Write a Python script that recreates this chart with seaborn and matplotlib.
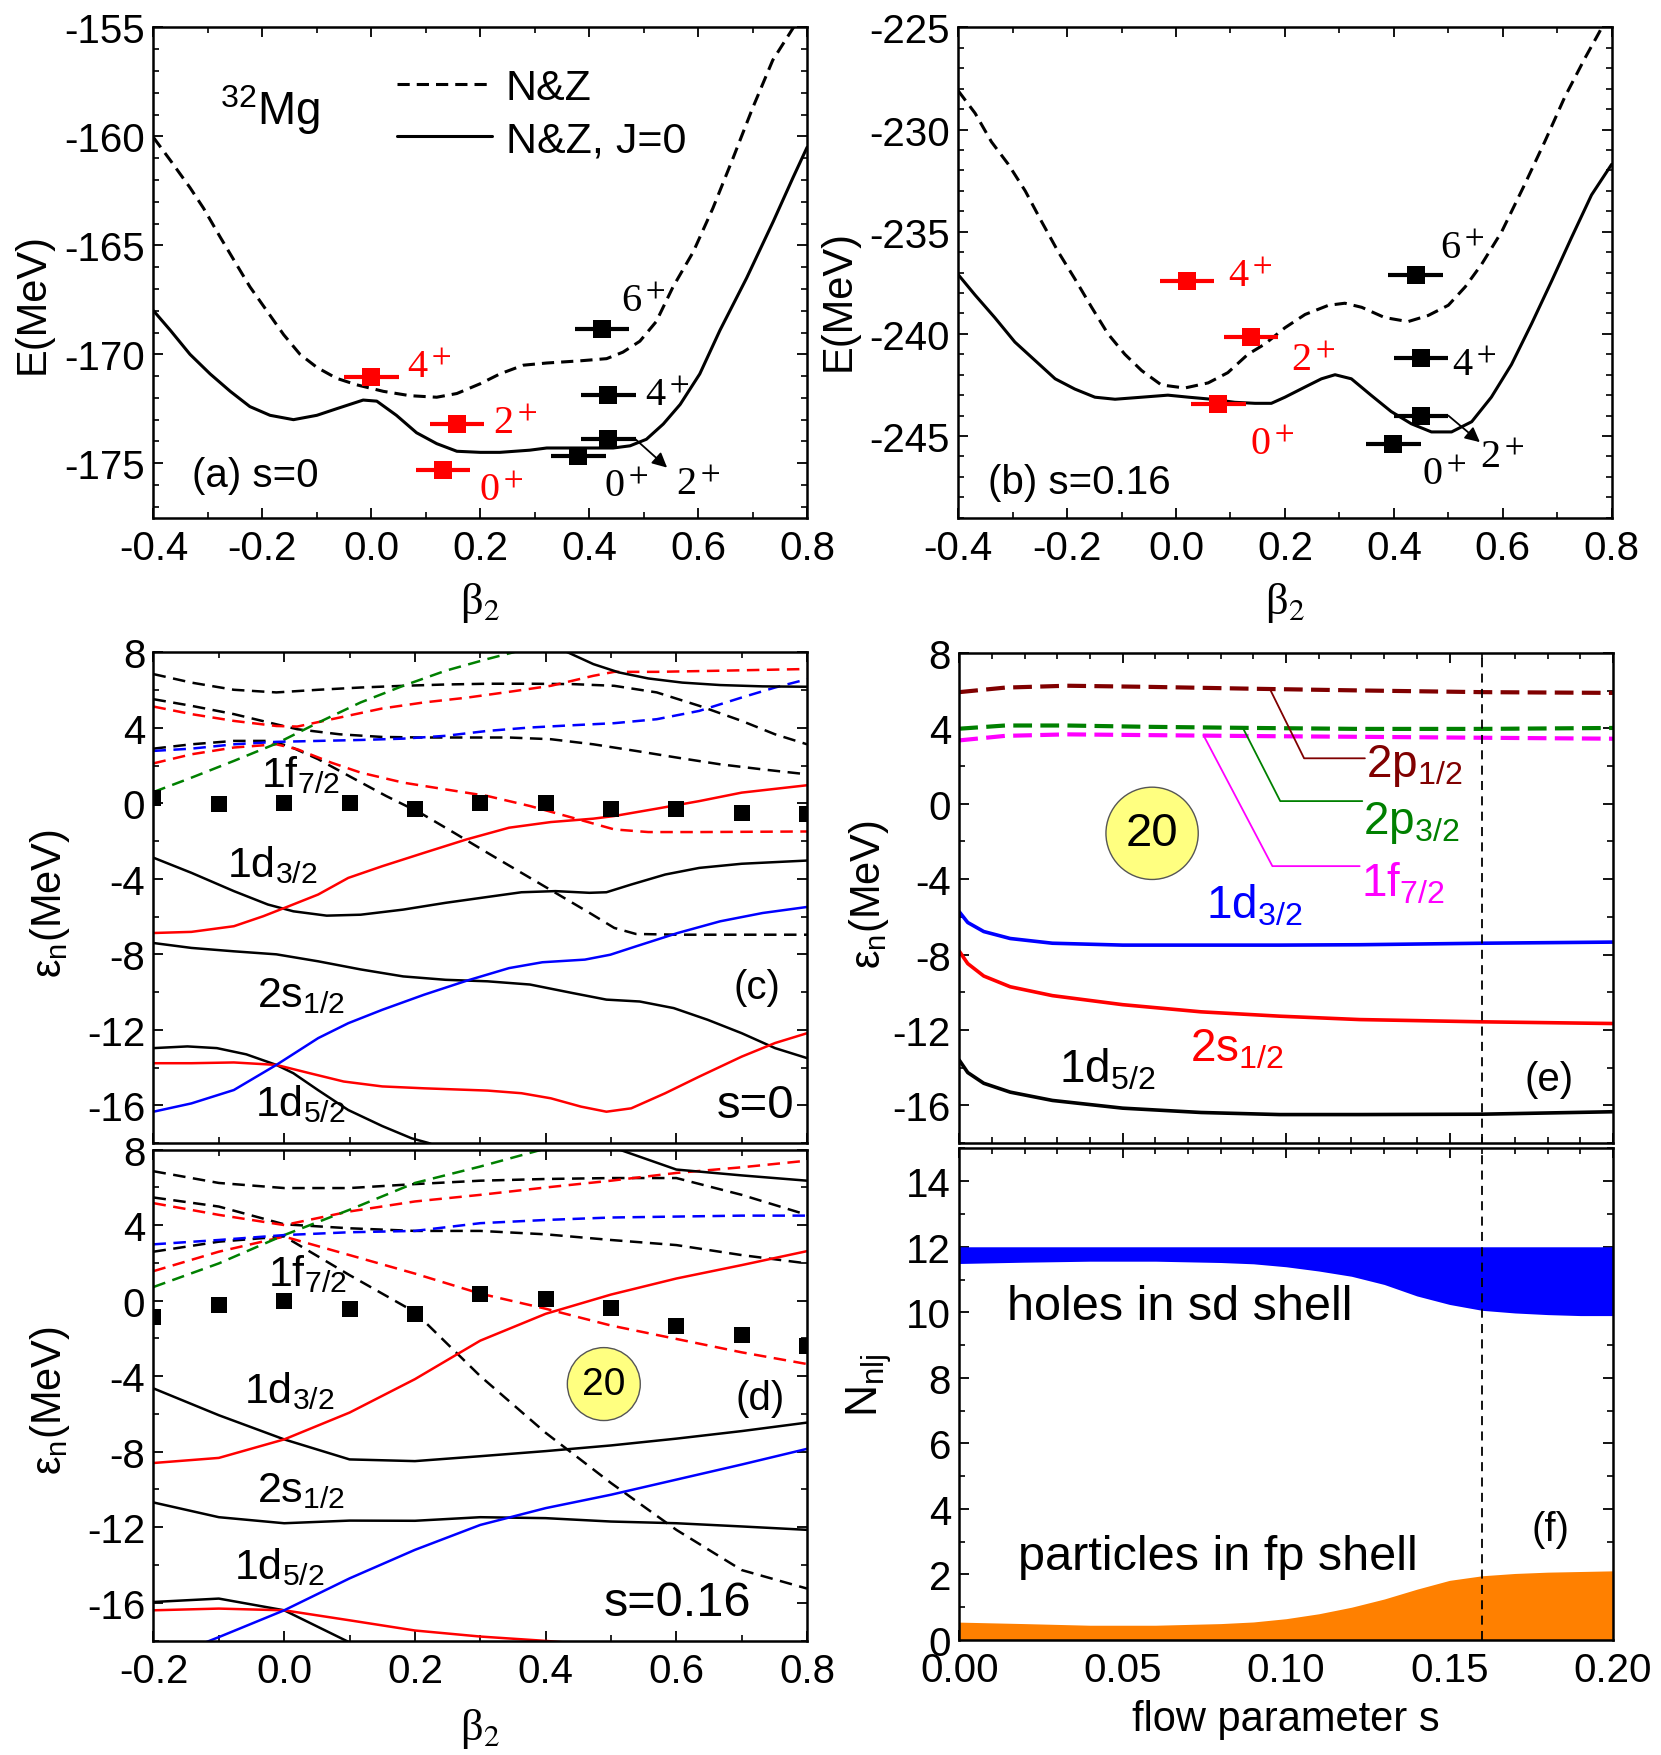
import matplotlib
matplotlib.use("Agg")
import matplotlib.pyplot as plt
import seaborn as sns
from matplotlib.ticker import MultipleLocator, FormatStrFormatter

# ---------- panel (a): energy curves, s=0 ----------
a_beta_nz = [-0.4, -0.369, -0.333, -0.308, -0.278, -0.247, -0.223, -0.192, -0.161, -0.131, -0.1, -0.064,
             -0.027, 0.022, 0.071, 0.12, 0.157, 0.2, 0.236, 0.279, 0.322, 0.383, 0.432, 0.462, 0.493, 0.523,
             0.554, 0.591, 0.627, 0.664, 0.7, 0.737, 0.775, 0.8]
a_E_nz = [-160.05, -161.1, -162.35, -163.3, -164.6, -165.9, -166.9, -168.0, -169.1, -170.0, -170.6, -171.1,
          -171.4, -171.7, -171.9, -171.97, -171.8, -171.35, -170.9, -170.5, -170.4, -170.3, -170.2, -169.9,
          -169.4, -168.5, -166.9, -165.3, -163.3, -161.0, -158.7, -156.5, -155.0, -154.0]
a_beta_j0 = [-0.4, -0.369, -0.333, -0.296, -0.259, -0.223, -0.186, -0.143, -0.1, -0.064, -0.015, 0.01, 0.046,
             0.083, 0.12, 0.157, 0.2, 0.236, 0.291, 0.322, 0.383, 0.444, 0.475, 0.505, 0.536, 0.567, 0.603,
             0.64, 0.689, 0.738, 0.774, 0.8]
a_E_j0 = [-168.0, -168.9, -170.0, -170.9, -171.7, -172.4, -172.8, -173.0, -172.8, -172.5, -172.1, -172.15,
          -172.8, -173.6, -174.1, -174.45, -174.5, -174.5, -174.4, -174.3, -174.3, -174.3, -174.2, -173.9,
          -173.2, -172.3, -170.9, -168.9, -166.5, -163.9, -161.9, -160.5]

# levels: red (left minimum) and black (right minimum)
a_red_beta = [0.0, 0.157, 0.132]
a_red_E = [-171.03, -173.19, -175.3]
a_red_J = ["4", "2", "0"]
a_red_tx = [0.065, 0.224, 0.198]
a_red_ty = [-171.06, -173.63, -176.69]
a_blk_beta = [0.423, 0.435, 0.435, 0.38]
a_blk_E = [-168.86, -171.88, -173.9, -174.68]
a_blk_J = ["6", "4", "2", "0"]
a_blk_tx = [0.459, 0.502, 0.56, 0.428]
a_blk_ty = [-168.0, -172.33, -176.39, -176.51]
a_arrow_tip = (0.543, -175.2)

# ---------- panel (b): energy curves, s=0.16 ----------
b_beta_nz = [-0.4, -0.369, -0.339, -0.308, -0.277, -0.247, -0.216, -0.186, -0.155, -0.125, -0.094, -0.063,
             -0.027, 0.016, 0.059, 0.095, 0.132, 0.163, 0.2, 0.237, 0.28, 0.31, 0.341, 0.383, 0.426, 0.463,
             0.5, 0.531, 0.561, 0.598, 0.64, 0.677, 0.714, 0.751, 0.778, 0.8]
b_E_nz = [-228.1, -229.2, -230.6, -231.7, -233.0, -234.5, -236.0, -237.3, -238.7, -240.0, -241.0, -241.8,
          -242.5, -242.65, -242.4, -241.9, -241.0, -240.5, -239.7, -239.05, -238.6, -238.5, -238.7, -239.2,
          -239.4, -239.1, -238.6, -237.7, -236.6, -235.0, -232.7, -230.6, -228.4, -226.5, -225.2, -224.0]
b_beta_j0 = [-0.4, -0.369, -0.333, -0.296, -0.259, -0.222, -0.186, -0.149, -0.112, -0.063, -0.015, 0.023,
             0.065, 0.108, 0.145, 0.175, 0.2, 0.237, 0.267, 0.292, 0.322, 0.358, 0.395, 0.432, 0.469, 0.506,
             0.543, 0.579, 0.616, 0.653, 0.69, 0.726, 0.763, 0.8]
b_E_j0 = [-237.1, -238.1, -239.2, -240.4, -241.3, -242.2, -242.7, -243.1, -243.2, -243.1, -243.0, -243.1,
          -243.2, -243.35, -243.4, -243.4, -243.1, -242.6, -242.2, -242.0, -242.2, -243.0, -243.8, -244.4,
          -244.8, -244.8, -244.3, -243.1, -241.5, -239.5, -237.4, -235.3, -233.2, -231.7]
b_red_beta = [0.0205, 0.1377, 0.0777]
b_red_E = [-237.4, -240.15, -243.43]
b_red_J = ["4", "2", "0"]
b_red_tx = [0.096, 0.212, 0.136]
b_red_ty = [-237.68, -241.76, -245.86]
b_blk_beta = [0.44, 0.45, 0.45, 0.399]
b_blk_E = [-237.1, -241.2, -244.0, -245.4]
b_blk_J = ["6", "4", "2", "0"]
b_blk_tx = [0.485, 0.506, 0.558, 0.451]
b_blk_ty = [-236.31, -242.03, -246.51, -247.36]
b_arrow_tip = (0.558, -245.3)
beta_err = 0.05

# ---------- panel (c): single-particle levels, s=0 ----------
c_blk1_x = [-0.2, -0.148, -0.103, -0.058, -0.012, 0.014, 0.052, 0.098, 0.15, 0.195, 0.221, 0.25]
c_blk1_y = [-12.97, -12.88, -12.97, -13.3, -13.86, -14.3, -15.2, -16.25, -17.1, -17.75, -18.0, -18.4]
c_blk2_x = [-0.2, -0.142, -0.077, -0.012, 0.052, 0.117, 0.182, 0.247, 0.311, 0.376, 0.441, 0.493, 0.544,
            0.596, 0.648, 0.7, 0.751, 0.8]
c_blk2_y = [-7.4, -7.66, -7.84, -8.0, -8.37, -8.8, -9.17, -9.35, -9.43, -9.6, -10.05, -10.4, -10.5, -10.85,
            -11.47, -12.18, -12.97, -13.5]
c_blk3_x = [-0.2, -0.142, -0.077, -0.025, 0.014, 0.065, 0.117, 0.182, 0.247, 0.311, 0.363, 0.415, 0.467,
            0.493, 0.531, 0.583, 0.635, 0.7, 0.8]
c_blk3_y = [-2.88, -3.68, -4.65, -5.36, -5.72, -5.95, -5.9, -5.63, -5.27, -4.96, -4.71, -4.65, -4.74, -4.71,
            -4.3, -3.77, -3.42, -3.2, -3.03]
c_blk4_x = [0.4, 0.434, 0.473, 0.512, 0.557, 0.609, 0.667, 0.732, 0.8]
c_blk4_y = [8.55, 8.0, 7.38, 6.94, 6.62, 6.4, 6.27, 6.2, 6.18]
c_red1_x = [-0.2, -0.142, -0.077, -0.012, 0.039, 0.091, 0.15, 0.214, 0.311, 0.363, 0.408, 0.454, 0.493,
            0.531, 0.583, 0.635, 0.7, 0.751, 0.8]
c_red1_y = [-13.77, -13.77, -13.73, -13.86, -14.3, -14.74, -15.0, -15.1, -15.22, -15.36, -15.63, -16.07,
            -16.34, -16.16, -15.36, -14.48, -13.42, -12.7, -12.18]
c_red2_x = [-0.2, -0.142, -0.077, -0.032, 0.007, 0.052, 0.098, 0.15, 0.214, 0.279, 0.344, 0.408, 0.473,
            0.505, 0.57, 0.635, 0.7, 0.8]
c_red2_y = [-6.87, -6.81, -6.51, -5.98, -5.45, -4.83, -3.95, -3.33, -2.62, -1.91, -1.29, -0.99, -0.81, -0.67,
            -0.28, 0.12, 0.57, 0.96]
c_blue_x = [-0.2, -0.142, -0.077, -0.012, 0.052, 0.098, 0.15, 0.214, 0.279, 0.344, 0.395, 0.46, 0.499, 0.538,
            0.602, 0.667, 0.732, 0.8]
c_blue_y = [-16.34, -15.9, -15.19, -13.86, -12.44, -11.65, -10.94, -10.14, -9.4, -8.73, -8.42, -8.28, -8.02,
            -7.58, -6.87, -6.25, -5.81, -5.49]
cd_blk1_x = [-0.2, -0.142, -0.077, -0.012, 0.052, 0.117, 0.182, 0.247, 0.311, 0.376, 0.441, 0.505, 0.57,
             0.635, 0.7, 0.751, 0.8]
cd_blk1_y = [6.85, 6.4, 6.02, 5.88, 6.02, 6.14, 6.23, 6.3, 6.34, 6.34, 6.32, 6.23, 5.88, 5.17, 4.37, 3.66, 3.13]
cd_blk2_x = [-0.2, -0.142, -0.077, -0.012, 0.02, 0.085, 0.15, 0.214, 0.279, 0.344, 0.408, 0.473, 0.538,
             0.602, 0.667, 0.732, 0.8]
cd_blk2_y = [5.52, 5.17, 4.73, 4.19, 3.93, 3.66, 3.52, 3.49, 3.49, 3.49, 3.4, 3.13, 2.78, 2.42, 2.07, 1.8, 1.54]
cd_blk3_x = [-0.2, -0.142, -0.077, -0.025, 0.007, 0.052, 0.104, 0.156, 0.208, 0.26, 0.311, 0.363, 0.415,
             0.467, 0.505, 0.538, 0.602, 0.8]
cd_blk3_y = [2.9, 3.13, 3.31, 3.31, 3.04, 2.34, 1.36, 0.39, -0.5, -1.56, -2.62, -3.68, -4.74, -5.8, -6.6,
             -6.92, -6.96, -6.96]
cd_red1_x = [-0.2, -0.142, -0.077, -0.012, 0.02, 0.085, 0.15, 0.214, 0.279, 0.344, 0.408, 0.473, 0.505, 0.57,
             0.667, 0.8]
cd_red1_y = [5.13, 4.73, 4.37, 4.1, 4.07, 4.55, 5.03, 5.35, 5.6, 5.91, 6.23, 6.76, 6.97, 6.97, 7.03, 7.12]
cd_red2_x = [-0.2, -0.142, -0.077, -0.012, 0.02, 0.072, 0.117, 0.182, 0.247, 0.311, 0.376, 0.441, 0.505,
             0.557, 0.635, 0.8]
cd_red2_y = [2.12, 2.6, 2.96, 3.13, 2.87, 2.16, 1.63, 1.1, 0.74, 0.39, -0.14, -0.76, -1.38, -1.52, -1.52, -1.49]
cd_green_x = [-0.2, -0.142, -0.077, -0.012, 0.052, 0.117, 0.182, 0.247, 0.311, 0.35, 0.4]
cd_green_y = [0.6, 1.36, 2.25, 3.17, 4.28, 5.35, 6.23, 7.03, 7.65, 8.0, 8.5]
cd_blue_x = [-0.2, -0.142, -0.077, -0.012, 0.052, 0.117, 0.182, 0.247, 0.311, 0.376, 0.441, 0.505, 0.57,
             0.635, 0.7, 0.751, 0.8]
cd_blue_y = [2.78, 2.9, 3.13, 3.26, 3.31, 3.36, 3.43, 3.58, 3.84, 4.02, 4.14, 4.25, 4.46, 4.9, 5.61, 6.14, 6.58]
grid_beta = [-0.2, -0.1, 0.0, 0.1, 0.2, 0.3, 0.4, 0.5, 0.6, 0.7, 0.8]
c_fermi = [0.3, -0.02, 0.04, 0.04, -0.32, 0.0, 0.0, -0.28, -0.28, -0.5, -0.58]

# ---------- panel (d): single-particle levels, s=0.16 (on grid_beta) ----------
d_blk_1d5 = [-15.96, -15.78, -16.4, -18.1, -19.6]
d_blk_2s = [-10.69, -11.47, -11.79, -11.65, -11.66, -11.47, -11.52, -11.7, -11.79, -11.96, -12.14]
d_blk_1d3 = [-4.65, -6.07, -7.35, -8.41, -8.5, -8.24, -7.97, -7.67, -7.31, -6.91, -6.46]
d_blk_top = [9.5, 8.15, 6.94, 6.63, 6.35]          # beta = 0.4 ... 0.8
d_red_low = [-16.4, -16.31, -16.4, -16.93, -17.47, -17.79, -18.02, -18.3]
d_red_up = [-8.6, -8.33, -7.35, -5.93, -4.16, -2.12, -0.7, 0.32, 1.17, 1.88, 2.62]
d_blue = [-19.2, -17.82, -16.4, -14.71, -13.2, -11.88, -10.99, -10.28, -9.48, -8.68, -7.85]
dd_blk1 = [6.85, 6.23, 5.96, 5.96, 6.17, 6.35, 6.44, 6.49, 6.49, 5.6, 4.54]
dd_blk2 = [5.46, 4.98, 4.04, 3.83, 3.69, 3.69, 3.51, 3.21, 2.94, 2.41, 1.97]
dd_blk3 = [2.59, 3.12, 3.4, 1.35, -0.61, -4.0, -7.0, -9.66, -12.14, -14.27, -15.25]
dd_red1 = [5.16, 4.54, 4.0, 4.72, 5.25, 5.6, 5.99, 6.35, 6.76, 7.06, 7.41]
dd_red2 = [1.56, 2.59, 3.39, 2.41, 1.43, 0.37, -0.43, -1.32, -2.03, -2.74, -3.36]
dd_green = [0.72, 1.97, 3.47, 4.81, 6.23, 7.1, 8.05, 9.0]
dd_blue = [2.98, 3.21, 3.47, 3.62, 3.69, 4.1, 4.27, 4.4, 4.45, 4.5, 4.5]
d_fermi = [-0.87, -0.25, -0.04, -0.43, -0.7, 0.37, 0.07, -0.38, -1.32, -1.81, -2.38]

# ---------- panel (e): levels vs flow parameter ----------
e_s = [0, 0.0026, 0.0075, 0.0156, 0.0285, 0.05, 0.074, 0.098, 0.1225, 0.16, 0.2]
e_1d3 = [-5.73, -6.3, -6.78, -7.15, -7.4, -7.5, -7.5, -7.5, -7.48, -7.4, -7.34]
e_2s = [-7.82, -8.48, -9.14, -9.71, -10.18, -10.66, -11.04, -11.27, -11.45, -11.57, -11.66]
e_1d5 = [-13.6, -14.26, -14.83, -15.3, -15.74, -16.15, -16.38, -16.49, -16.49, -16.47, -16.34]
e_s_fp = [0, 0.014, 0.033, 0.058, 0.09, 0.1225, 0.16, 0.2]
e_2p1 = [5.92, 6.16, 6.26, 6.2, 6.1, 6.01, 5.92, 5.88]
e_2p3 = [3.98, 4.15, 4.15, 4.08, 4.02, 3.97, 3.97, 4.02]
e_1f7 = [3.36, 3.6, 3.68, 3.64, 3.59, 3.55, 3.5, 3.45]
s_chosen = 0.16

# ---------- panel (f): occupation numbers ----------
f_s = [0, 0.02, 0.04, 0.06, 0.08, 0.09, 0.10, 0.11, 0.12, 0.13, 0.14, 0.15, 0.16, 0.17, 0.18, 0.19, 0.20]
f_sd_occ = [11.49, 11.53, 11.56, 11.56, 11.52, 11.48, 11.39, 11.26, 11.1, 10.85, 10.5, 10.24, 10.06, 9.98,
            9.93, 9.9, 9.9]
f_fp_occ = [0.545, 0.5, 0.45, 0.45, 0.5, 0.55, 0.65, 0.8, 1.0, 1.25, 1.55, 1.82, 1.96, 2.03, 2.07, 2.09, 2.11]
sd_capacity = 12

sns.set_theme(style="ticks")
plt.rcParams['font.family'] = ['Liberation Sans', 'DejaVu Sans']
plt.rcParams.update({
    'mathtext.fontset': 'custom', 'mathtext.rm': 'Liberation Sans',
    'mathtext.it': 'Liberation Sans:italic', 'mathtext.bf': 'Liberation Sans:bold',
    'axes.unicode_minus': False, 'axes.linewidth': 1.8, 'axes.edgecolor': 'black',
    'xtick.direction': 'in', 'ytick.direction': 'in', 'xtick.top': True, 'ytick.right': True,
    'xtick.major.size': 7.5, 'ytick.major.size': 7.5, 'xtick.minor.size': 4.5, 'ytick.minor.size': 4.5,
    'xtick.major.width': 1.3, 'ytick.major.width': 1.3, 'xtick.minor.width': 1.2, 'ytick.minor.width': 1.2,
    'xtick.color': 'black', 'ytick.color': 'black', 'xtick.labelsize': 29, 'ytick.labelsize': 29,
    'xtick.major.pad': 8, 'ytick.major.pad': 6, 'text.color': 'black', 'axes.labelcolor': 'black',
})

SERIF = dict(family='Liberation Serif', math_fontfamily='stix')
NARROW = ['Liberation Sans Narrow', 'Liberation Sans', 'DejaVu Sans']


def setup(ax, xlim, ylim, xmaj, xmin, ymaj, ymin, xfmt, xlabels=True):
    ax.set_xlim(*xlim)
    ax.set_ylim(*ylim)
    ax.xaxis.set_major_locator(MultipleLocator(xmaj))
    ax.xaxis.set_minor_locator(MultipleLocator(xmin))
    ax.yaxis.set_major_locator(MultipleLocator(ymaj))
    ax.yaxis.set_minor_locator(MultipleLocator(ymin))
    ax.xaxis.set_major_formatter(FormatStrFormatter(xfmt))
    ax.yaxis.set_major_formatter(FormatStrFormatter('%d'))
    ax.tick_params(which='both', top=True, right=True, labelbottom=xlabels)
    for t in ax.get_xticklabels() + ax.get_yticklabels():
        t.set_family(NARROW)
    ax.set_xlabel('')
    ax.set_ylabel('')


def line(ax, x, y, color, dash=None, lw=1.8, label=None):
    ls = '-' if dash is None else (0, dash)
    sns.lineplot(x=x, y=y, ax=ax, color=color, linestyle=ls, linewidth=lw, label=label,
                 estimator=None, legend=label is not None)


def levels(ax, bx, be, color):
    ax.errorbar(bx, be, xerr=beta_err, fmt='s', color=color, ms=13, mew=0, elinewidth=3,
                capsize=0, zorder=5)


def spin_labels(ax, js, tx, ty, color):
    for j, x, y in zip(js, tx, ty):
        ax.text(x, y, j + '$^+$', color=color, fontsize=29, va='baseline', **SERIF)


fig = plt.figure(figsize=(16.61, 17.56), dpi=100)

# ---- (a)
ax = fig.add_axes([0.0924, 0.7046, 0.3935, 0.2792])
line(ax, a_beta_nz, a_E_nz, 'black', dash=(4, 2.3), lw=2.2, label='N&Z')
line(ax, a_beta_j0, a_E_j0, 'black', lw=2.2, label='N&Z, J=0')
levels(ax, a_red_beta, a_red_E, 'red')
levels(ax, a_blk_beta, a_blk_E, 'black')
spin_labels(ax, a_red_J, a_red_tx, a_red_ty, 'red')
spin_labels(ax, a_blk_J, a_blk_tx, a_blk_ty, 'black')
ax.annotate('', xy=a_arrow_tip, xytext=(a_blk_beta[2] + beta_err, a_blk_E[2]),
            arrowprops=dict(arrowstyle='-|>', color='black', lw=1.3, mutation_scale=22, shrinkA=0, shrinkB=0))
ax.text(-0.278, -159.44, '$^{32}$Mg', fontsize=33, va='baseline')
ax.text(-0.33, -176.06, '(a) s=0', fontsize=29, va='baseline')
ax.legend(loc='upper left', bbox_to_anchor=(0.3725, 0.918), frameon=False, fontsize=31,
          handlelength=2.2, handletextpad=0.33, labelspacing=0.3, borderaxespad=0, borderpad=0)
setup(ax, (-0.4, 0.8), (-177.5, -155), 0.2, 0.1, 5, 1, '%.1f')
ax.set_ylabel('E(MeV)', fontsize=30)
ax.yaxis.set_label_coords(-0.154, 0.44)
ax.set_xlabel('β$_2$', fontsize=32, **SERIF)
ax.xaxis.set_label_coords(0.5, -0.128)

# ---- (b)
ax = fig.add_axes([0.5769, 0.7046, 0.3934, 0.2792])
line(ax, b_beta_nz, b_E_nz, 'black', dash=(4, 2.3), lw=2.2)
line(ax, b_beta_j0, b_E_j0, 'black', lw=2.2)
levels(ax, b_red_beta, b_red_E, 'red')
levels(ax, b_blk_beta, b_blk_E, 'black')
spin_labels(ax, b_red_J, b_red_tx, b_red_ty, 'red')
spin_labels(ax, b_blk_J, b_blk_tx, b_blk_ty, 'black')
ax.annotate('', xy=b_arrow_tip, xytext=(b_blk_beta[2] + beta_err, b_blk_E[2]),
            arrowprops=dict(arrowstyle='-|>', color='black', lw=1.3, mutation_scale=22, shrinkA=0, shrinkB=0))
ax.text(-0.345, -247.79, '(b) s=0.16', fontsize=29, va='baseline')
setup(ax, (-0.4, 0.8), (-249, -225), 0.2, 0.1, 5, 1, '%.1f')
ax.set_ylabel('E(MeV)', fontsize=30)
ax.yaxis.set_label_coords(-0.152, 0.445)
ax.set_xlabel('β$_2$', fontsize=32, **SERIF)
ax.xaxis.set_label_coords(0.5, -0.128)

# ---- (c)
ax = fig.add_axes([0.0924, 0.3485, 0.3935, 0.2794])
dc = (5, 3)
for x, y, col, d in [(cd_blk1_x, cd_blk1_y, 'black', dc), (cd_blk2_x, cd_blk2_y, 'black', dc),
                     (cd_blk3_x, cd_blk3_y, 'black', dc), (cd_red1_x, cd_red1_y, 'red', dc),
                     (cd_red2_x, cd_red2_y, 'red', dc), (cd_green_x, cd_green_y, 'green', dc),
                     (cd_blue_x, cd_blue_y, 'blue', dc),
                     (c_blk1_x, c_blk1_y, 'black', None), (c_blk2_x, c_blk2_y, 'black', None),
                     (c_blk3_x, c_blk3_y, 'black', None), (c_blk4_x, c_blk4_y, 'black', None),
                     (c_red1_x, c_red1_y, 'red', None), (c_red2_x, c_red2_y, 'red', None),
                     (c_blue_x, c_blue_y, 'blue', None)]:
    line(ax, x, y, col, dash=d)
sns.scatterplot(x=grid_beta, y=c_fermi, ax=ax, marker='s', s=130, color='black', linewidth=0, zorder=5)
ax.text(-0.035, 0.92, '1f$_{7/2}$', fontsize=31, va='baseline')
ax.text(-0.087, -3.86, '1d$_{3/2}$', fontsize=31, va='baseline')
ax.text(-0.041, -10.76, '2s$_{1/2}$', fontsize=31, va='baseline')
ax.text(-0.045, -16.5, '1d$_{5/2}$', fontsize=31, va='baseline')
ax.text(0.687, -10.32, '(c)', fontsize=29, va='baseline')
ax.text(0.781, -16.6, 's=0', fontsize=34, va='baseline', ha='right')
setup(ax, (-0.2, 0.8), (-18, 8), 0.2, 0.1, 4, 2, '%.1f', xlabels=False)
ax.set_ylabel('ε$_\\mathrm{n}$(MeV)', fontsize=30)
ax.yaxis.set_label_coords(-0.125, 0.49)

# ---- (d)
ax = fig.add_axes([0.0924, 0.0652, 0.3935, 0.2796])
for y, col in [(dd_blk1, 'black'), (dd_blk2, 'black'), (dd_blk3, 'black'), (dd_red1, 'red'),
               (dd_red2, 'red'), (dd_green, 'green'), (dd_blue, 'blue')]:
    line(ax, grid_beta[:len(y)], y, col, dash=dc)
for y, col in [(d_blk_1d5, 'black'), (d_blk_2s, 'black'), (d_blk_1d3, 'black'), (d_red_low, 'red'),
               (d_red_up, 'red'), (d_blue, 'blue')]:
    line(ax, grid_beta[:len(y)], y, col)
line(ax, grid_beta[-len(d_blk_top):], d_blk_top, 'black')
sns.scatterplot(x=grid_beta, y=d_fermi, ax=ax, marker='s', s=130, color='black', linewidth=0, zorder=5)
ax.text(-0.025, 0.81, '1f$_{7/2}$', fontsize=31, va='baseline')
ax.text(-0.061, -5.36, '1d$_{3/2}$', fontsize=31, va='baseline')
ax.text(-0.041, -10.63, '2s$_{1/2}$', fontsize=31, va='baseline')
ax.text(-0.077, -14.71, '1d$_{5/2}$', fontsize=31, va='baseline')
ax.text(0.69, -5.75, '(d)', fontsize=29, va='baseline')
ax.text(0.489, -16.67, 's=0.16', fontsize=35, va='baseline')
ax.text(0.489, -4.42, '20', fontsize=28, ha='center', va='center', zorder=6,
        bbox=dict(boxstyle='circle,pad=0.38', fc='#ffff80', ec='#555555', lw=1))
setup(ax, (-0.2, 0.8), (-18, 8), 0.2, 0.1, 4, 2, '%.1f')
ax.set_ylabel('ε$_\\mathrm{n}$(MeV)', fontsize=30)
ax.yaxis.set_label_coords(-0.125, 0.49)
ax.set_xlabel('β$_2$', fontsize=32, **SERIF)
ax.xaxis.set_label_coords(0.5, -0.134)

# ---- (e)
ax = fig.add_axes([0.5775, 0.3485, 0.3936, 0.2791])
de = (4.5, 2)
line(ax, e_s_fp, e_2p1, '#800000', dash=de, lw=3)
line(ax, e_s_fp, e_2p3, 'green', dash=de, lw=3)
line(ax, e_s_fp, e_1f7, 'magenta', dash=de, lw=3)
line(ax, e_s, e_1d3, 'blue', lw=2.6)
line(ax, e_s, e_2s, 'red', lw=2.6)
line(ax, e_s, e_1d5, 'black', lw=2.6)
ax.axvline(s_chosen, color='black', linestyle=(0, (5, 3.5)), lw=1.3)
for (px, py), (cx, cy), ex, col, txt, tyy in [
        ((0.095, 6.1), (0.1055, 2.41), 0.1241, '#800000', '2p$_{1/2}$', 1.46),
        ((0.0869, 3.98), (0.0982, 0.14), 0.1233, 'green', '2p$_{3/2}$', -1.57),
        ((0.0747, 3.64), (0.0958, -3.31), 0.1225, 'magenta', '1f$_{7/2}$', -4.88)]:
    ax.plot([px, cx, ex], [py, cy, cy], color=col, lw=1.3)
    ax.text(ex + 0.0003, tyy, txt, color=col, fontsize=33, va='baseline')
ax.text(0.0755, -6.02, '1d$_{3/2}$', color='blue', fontsize=33, va='baseline')
ax.text(0.0707, -13.6, '2s$_{1/2}$', color='red', fontsize=33, va='baseline')
ax.text(0.0305, -14.73, '1d$_{5/2}$', color='black', fontsize=33, va='baseline')
ax.text(0.1728, -15.2, '(e)', fontsize=29, va='baseline')
ax.text(0.059, -1.57, '20', fontsize=34, ha='center', va='center', zorder=6,
        bbox=dict(boxstyle='circle,pad=0.42', fc='#ffff80', ec='#555555', lw=1))
setup(ax, (0, 0.2), (-18, 8), 0.05, 0.01, 4, 2, '%.2f', xlabels=False)
ax.set_ylabel('ε$_\\mathrm{n}$(MeV)', fontsize=30)
ax.yaxis.set_label_coords(-0.104, 0.51)

# ---- (f)
ax = fig.add_axes([0.5775, 0.0655, 0.3936, 0.2799])
ax.fill_between(f_s, f_sd_occ, sd_capacity, color='#0000ff', lw=0)
ax.fill_between(f_s, 0, f_fp_occ, color='#ff8000', lw=0)
ax.axvline(s_chosen, color='black', linestyle=(0, (5, 3.5)), lw=1.3)
ax.text(0.0147, 9.81, 'holes in sd shell', fontsize=35, va='baseline')
ax.text(0.018, 2.17, 'particles in fp shell', fontsize=35, va='baseline')
ax.text(0.1752, 3.06, '(f)', fontsize=29, va='baseline')
setup(ax, (0, 0.2), (0, 15), 0.05, 0.01, 2, 1, '%.2f')
ax.set_ylabel('N$_\\mathrm{nlj}$', fontsize=32)
ax.yaxis.set_label_coords(-0.1, 0.52)
ax.set_xlabel('flow parameter s', fontsize=30)
ax.xaxis.set_label_coords(0.5, -0.12)

fig.savefig('out.png', dpi=100)
